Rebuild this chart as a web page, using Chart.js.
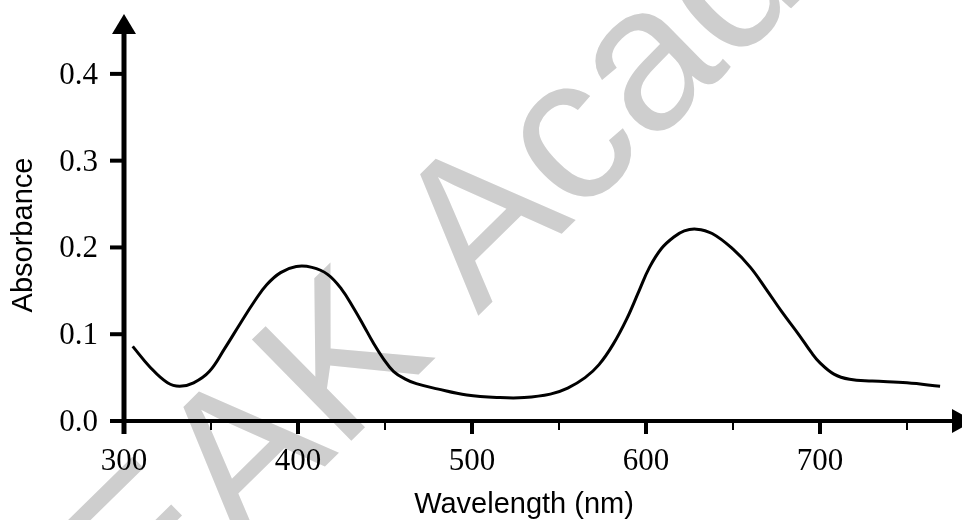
<!DOCTYPE html>
<html>
<head>
<meta charset="utf-8">
<script src="https://cdn.jsdelivr.net/npm/chart.js@4/dist/chart.umd.min.js"></script>
<style>
  body { margin: 0; background: #fff; }
  canvas { display: block; }
</style>
</head>
<body>
<canvas id="myChart" width="962" height="520"></canvas>
<script>
// values
const wavelengths = [305, 315, 325, 332, 340, 349, 358, 367, 375, 382, 390, 399, 408, 417, 425, 432, 438, 443, 449, 455, 462, 468, 480, 497, 516, 530, 545, 555, 565, 573, 581, 589, 596, 602, 609, 616, 622, 629, 638, 650, 660, 669, 678, 688, 695, 700, 708, 717, 730, 750, 769];
const absorbance = [0.086, 0.062, 0.044, 0.040, 0.044, 0.057, 0.084, 0.113, 0.138, 0.157, 0.171, 0.178, 0.177, 0.169, 0.152, 0.130, 0.109, 0.091, 0.072, 0.057, 0.048, 0.043, 0.037, 0.030, 0.027, 0.027, 0.031, 0.038, 0.050, 0.065, 0.088, 0.118, 0.150, 0.177, 0.199, 0.212, 0.219, 0.221, 0.216, 0.198, 0.177, 0.152, 0.126, 0.099, 0.079, 0.067, 0.054, 0.048, 0.046, 0.044, 0.040];

const xTicks = [300, 400, 500, 600, 700];
const xMinorTicks = [350, 450, 550, 650, 750];
const yTicks = [0.0, 0.1, 0.2, 0.3, 0.4];
const yTickLabels = ['0.0', '0.1', '0.2', '0.3', '0.4'];
const xTitle = 'Wavelength (nm)';
const yTitle = 'Absorbance';
const watermark = 'EAK Academy';

const watermarkPlugin = {
    id: 'watermark',
    beforeDraw(chart) {
        const ctx = chart.ctx;
        ctx.save();
        ctx.fillStyle = '#cecece';
        ctx.font = '206px "Liberation Sans", Arial, sans-serif';
        ctx.textBaseline = 'alphabetic';
        ctx.textAlign = 'left';
        const offset = ctx.measureText('EAK ').width;
        ctx.translate(478, 316);
        ctx.rotate(-44.5 * Math.PI / 180);
        ctx.fillText(watermark, -offset, 0);
        ctx.restore();
    }
};

const axesPlugin = {
    id: 'arrowAxes',
    beforeDatasetsDraw(chart) {
        const ctx = chart.ctx;
        const xs = chart.scales.x;
        const ys = chart.scales.y;
        const x0 = xs.getPixelForValue(300);
        const y0 = ys.getPixelForValue(0);
        const top = chart.chartArea.top;
        const right = chart.chartArea.right;

        ctx.save();
        ctx.strokeStyle = '#000';
        ctx.fillStyle = '#000';
        ctx.lineCap = 'butt';

        // x axis
        ctx.lineWidth = 4;
        ctx.beginPath();
        ctx.moveTo(x0 - 14, y0);
        ctx.lineTo(right - 10, y0);
        ctx.stroke();
        ctx.beginPath();
        ctx.moveTo(right - 10, y0 - 12);
        ctx.lineTo(right + 12, y0);
        ctx.lineTo(right - 10, y0 + 12);
        ctx.closePath();
        ctx.fill();

        // y axis
        ctx.lineWidth = 5;
        ctx.beginPath();
        ctx.moveTo(x0, y0 + 13);
        ctx.lineTo(x0, top + 20);
        ctx.stroke();
        ctx.beginPath();
        ctx.moveTo(x0 - 12, top + 20);
        ctx.lineTo(x0, top);
        ctx.lineTo(x0 + 12, top + 20);
        ctx.closePath();
        ctx.fill();

        // x ticks
        ctx.lineWidth = 4;
        xTicks.forEach(v => {
            const px = xs.getPixelForValue(v);
            ctx.beginPath();
            ctx.moveTo(px, y0);
            ctx.lineTo(px, y0 + 13);
            ctx.stroke();
        });
        ctx.lineWidth = 2;
        xMinorTicks.forEach(v => {
            const px = xs.getPixelForValue(v);
            ctx.beginPath();
            ctx.moveTo(px, y0);
            ctx.lineTo(px, y0 + 9);
            ctx.stroke();
        });

        // y ticks
        ctx.lineWidth = 4;
        yTicks.forEach(v => {
            const py = ys.getPixelForValue(v);
            ctx.beginPath();
            ctx.moveTo(x0 - 14, py);
            ctx.lineTo(x0, py);
            ctx.stroke();
        });

        // tick labels
        ctx.font = '31px "Liberation Serif", "Times New Roman", serif';
        ctx.textBaseline = 'alphabetic';
        ctx.textAlign = 'center';
        xTicks.forEach(v => {
            ctx.fillText(String(v), xs.getPixelForValue(v), y0 + 49);
        });
        ctx.textAlign = 'right';
        yTicks.forEach((v, i) => {
            ctx.fillText(yTickLabels[i], x0 - 26, ys.getPixelForValue(v) + 10);
        });

        // titles
        ctx.font = '29px "Liberation Sans", Arial, sans-serif';
        ctx.textAlign = 'center';
        ctx.fillText(xTitle, 524, 513);
        ctx.save();
        ctx.translate(32, 235);
        ctx.rotate(-Math.PI / 2);
        ctx.fillText(yTitle, 0, 0);
        ctx.restore();

        ctx.restore();
    }
};

const data = {
    datasets: [
        {
            label: yTitle,
            data: wavelengths.map((w, i) => ({ x: w, y: absorbance[i] })),
            borderColor: '#000',
            borderWidth: 3,
            pointRadius: 0,
            fill: false,
            tension: 0.4,
        },
    ],
};

const options = {
    responsive: false,
    animation: false,
    devicePixelRatio: 1,
    layout: {
        padding: { left: 124, right: 0, top: 14, bottom: 99 },
    },
    plugins: {
        legend: { display: false },
        tooltip: { enabled: false },
    },
    scales: {
        x: { type: 'linear', min: 300, max: 781.6, display: false },
        y: { type: 'linear', min: 0, max: 0.469, display: false },
    },
};

new Chart(document.getElementById('myChart').getContext('2d'), {
    type: 'line',
    data: data,
    options: options,
    plugins: [watermarkPlugin, axesPlugin],
});
</script>
</body>
</html>
